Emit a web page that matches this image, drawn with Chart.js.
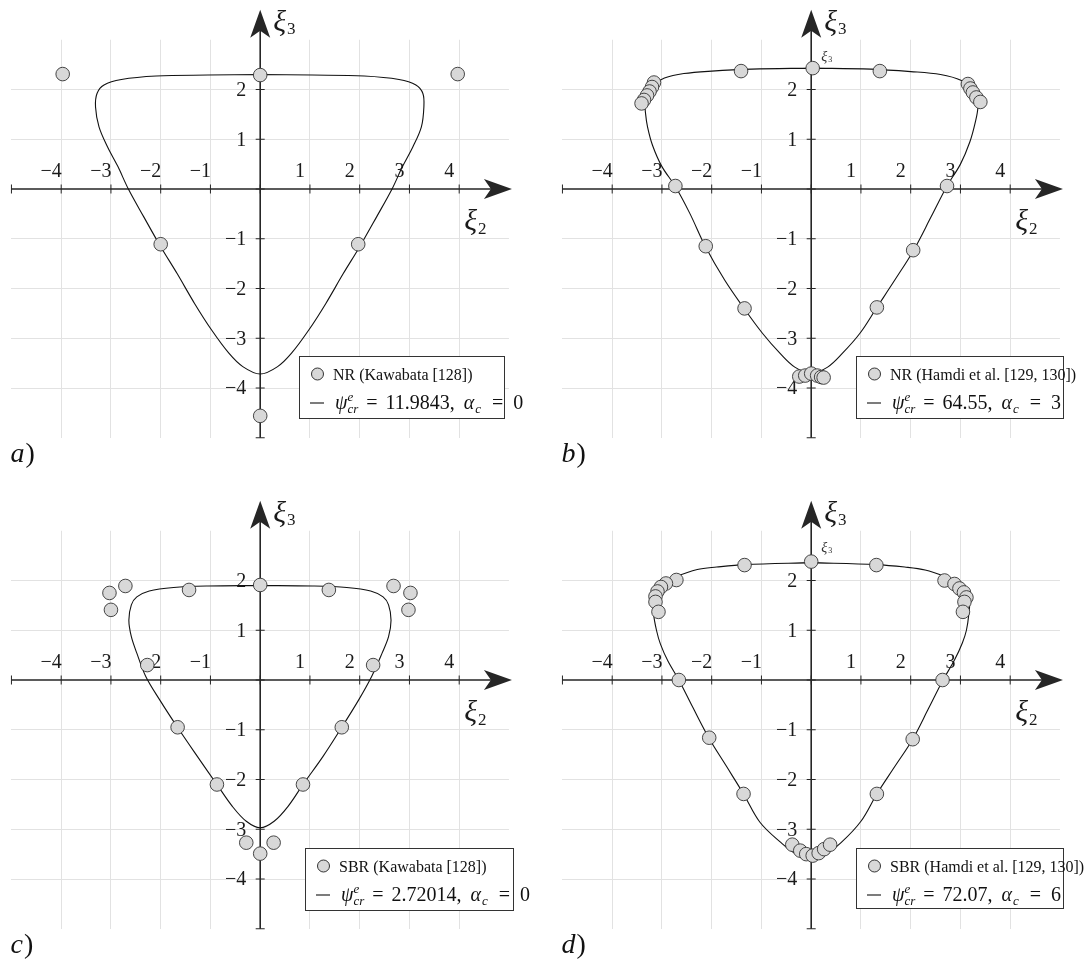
<!DOCTYPE html>
<html>
<head>
<meta charset="utf-8">
<script src="https://cdn.jsdelivr.net/npm/chart.js@4/dist/chart.umd.min.js"></script>
<style>
  html, body { margin: 0; padding: 0; background: #fff; overflow: hidden; }
  body { width: 1088px; height: 961px; position: relative; }
  canvas { position: absolute; }
</style>
</head>
<body>
<canvas id="pa" width="544" height="480" style="left:0px;top:0px"></canvas>
<canvas id="pb" width="537" height="480" style="left:551px;top:0px"></canvas>
<canvas id="pc" width="544" height="470" style="left:0px;top:491px"></canvas>
<canvas id="pd" width="537" height="470" style="left:551px;top:491px"></canvas>
<script>
// measured failure points (xi2, xi3)
const kawabataNR = [[-3.97, 2.31], [0, 2.29], [3.97, 2.31], [-2.0, -1.11], [1.97, -1.11], [0, -4.56]];

const hamdiNR = [
  [-1.41, 2.37], [0.03, 2.43], [1.38, 2.37],
  [-3.16, 2.14], [-3.20, 2.05], [-3.25, 1.96], [-3.30, 1.88], [-3.36, 1.79], [-3.41, 1.72],
  [3.15, 2.11], [3.20, 2.02], [3.25, 1.94], [3.32, 1.84], [3.40, 1.75],
  [-2.73, 0.06], [2.73, 0.06], [-2.12, -1.15], [2.05, -1.23], [-1.34, -2.40], [1.32, -2.38],
  [-0.24, -3.77], [-0.12, -3.75], [0.0, -3.71], [0.12, -3.75], [0.20, -3.78], [0.25, -3.79]
];

const kawabataSBR = [
  [-3.03, 1.75], [-2.71, 1.89], [-3.0, 1.41], [-1.43, 1.81], [0, 1.91], [1.38, 1.81],
  [2.68, 1.89], [3.02, 1.75], [2.98, 1.41], [-2.27, 0.30], [2.27, 0.30],
  [-1.66, -0.95], [1.64, -0.95], [-0.87, -2.10], [0.86, -2.10],
  [-0.28, -3.27], [0.27, -3.27], [0, -3.49]
];

const hamdiSBR = [
  [-1.34, 2.31], [0, 2.38], [1.31, 2.31],
  [-2.71, 2.01], [-2.92, 1.94], [-3.02, 1.87], [-3.09, 1.78], [-3.13, 1.68], [-3.13, 1.57], [-3.07, 1.37],
  [2.68, 2.0], [2.88, 1.93], [2.98, 1.84], [3.07, 1.76], [3.12, 1.66], [3.08, 1.57], [3.05, 1.37],
  [-2.66, 0], [2.64, 0], [-2.05, -1.16], [2.04, -1.19], [-1.36, -2.29], [1.32, -2.29],
  [-0.38, -3.31], [-0.22, -3.43], [-0.10, -3.50], [0.03, -3.53], [0.15, -3.48], [0.26, -3.40], [0.38, -3.31]
];

// critical-energy surfaces cut in the deviatoric plane
const fitNR0 = [
  [0, 2.30], [-1.05, 2.29], [-2.09, 2.27], [-2.79, 2.20], [-3.14, 2.09], [-3.28, 1.92], [-3.31, 1.65],
  [-3.24, 1.25], [-3.07, 0.85], [-2.86, 0.45], [-2.65, 0.0], [-2.34, -0.56], [-2.0, -1.16],
  [-1.67, -1.70], [-1.32, -2.30], [-0.98, -2.83], [-0.63, -3.30], [-0.35, -3.57], [0, -3.72],
  [0.35, -3.57], [0.63, -3.30], [0.98, -2.83], [1.32, -2.30], [1.67, -1.70], [2.0, -1.16],
  [2.34, -0.56], [2.65, 0.0], [2.86, 0.45], [3.07, 0.85], [3.24, 1.25], [3.29, 1.65], [3.27, 1.92],
  [3.13, 2.09], [2.79, 2.20], [2.09, 2.27], [1.05, 2.29], [0, 2.30]
];

const fitNR3 = [
  [0, 2.43], [-1.19, 2.41], [-2.0, 2.37], [-2.56, 2.32], [-2.95, 2.23], [-3.16, 2.10], [-3.28, 1.96],
  [-3.34, 1.75], [-3.33, 1.52], [-3.29, 1.25], [-3.19, 0.88], [-3.0, 0.45], [-2.73, 0.05],
  [-2.44, -0.49], [-2.13, -1.15], [-1.74, -1.83], [-1.35, -2.40], [-0.98, -2.90], [-0.63, -3.30],
  [-0.33, -3.58], [0, -3.70], [0.33, -3.58], [0.63, -3.30], [0.98, -2.90], [1.32, -2.38],
  [1.70, -1.80], [2.06, -1.23], [2.41, -0.56], [2.73, 0.06], [3.0, 0.50], [3.19, 0.95],
  [3.30, 1.35], [3.35, 1.65], [3.31, 1.86], [3.21, 2.02], [3.02, 2.18], [2.6, 2.30],
  [2.0, 2.36], [1.2, 2.41], [0, 2.43]
];

const fitSBR0 = [
  [0, 1.90], [-1.05, 1.89], [-1.74, 1.86], [-2.23, 1.79], [-2.48, 1.67], [-2.59, 1.51], [-2.64, 1.20],
  [-2.59, 0.87], [-2.48, 0.54], [-2.30, 0.07], [-2.02, -0.40], [-1.67, -0.94], [-1.26, -1.54],
  [-0.87, -2.10], [-0.56, -2.54], [-0.28, -2.84], [0, -2.97], [0.28, -2.84], [0.56, -2.54],
  [0.86, -2.10], [1.26, -1.54], [1.64, -0.95], [1.98, -0.40], [2.24, 0.07], [2.45, 0.54],
  [2.58, 0.87], [2.63, 1.20], [2.58, 1.51], [2.47, 1.67], [2.22, 1.79], [1.74, 1.86],
  [1.05, 1.89], [0, 1.90]
];

const fitSBR6 = [
  [0, 2.36], [-1.34, 2.32], [-1.9, 2.27], [-2.29, 2.22], [-2.73, 2.07], [-2.95, 1.95], [-3.08, 1.82],
  [-3.17, 1.62], [-3.17, 1.34], [-3.11, 1.0], [-3.03, 0.72], [-2.88, 0.38], [-2.66, 0.0],
  [-2.38, -0.55], [-2.06, -1.16], [-1.70, -1.74], [-1.36, -2.29], [-1.03, -2.86], [-0.63, -3.25],
  [-0.30, -3.50], [0, -3.56], [0.30, -3.49], [0.60, -3.27], [1.0, -2.84], [1.32, -2.29],
  [1.68, -1.74], [2.04, -1.19], [2.36, -0.57], [2.65, 0.0], [2.88, 0.40], [3.04, 0.75],
  [3.12, 1.0], [3.17, 1.34], [3.18, 1.61], [3.08, 1.82], [2.95, 1.95], [2.68, 2.08],
  [2.29, 2.21], [1.88, 2.27], [1.31, 2.32], [0, 2.36]
];

const sourceLabels = ['NR (Kawabata [128])', 'NR (Hamdi et al. [129, 130])',
                      'SBR (Kawabata [128])', 'SBR (Hamdi et al. [129, 130])'];
const psiCr = ['11.9843', '64.55', '2.72014', '72.07'];
const alphaC = ['0', '3', '0', '6'];
const panelTags = ['a', 'b', 'c', 'd'];
const xRange = [-5, 5];
const yRange = [-5, 3];

const SERIF = '"Liberation Serif", "Times New Roman", serif';
const INK = '#262626';

const toXY = pts => pts.map(([x, y]) => ({ x, y }));
const fmt = v => (v < 0 ? '\u2212' + (-v) : String(v));

function arrowHead(ctx, tx, ty, dx, dy) {
  const len = 28, half = 10, notch = 21;
  const nx = -dy, ny = dx;
  ctx.beginPath();
  ctx.moveTo(tx, ty);
  ctx.lineTo(tx - dx * len + nx * half, ty - dy * len + ny * half);
  ctx.lineTo(tx - dx * notch, ty - dy * notch);
  ctx.lineTo(tx - dx * len - nx * half, ty - dy * len - ny * half);
  ctx.closePath();
  ctx.fill();
}

function xiLabel(ctx, x, base, sub, size) {
  ctx.font = `italic ${size}px ${SERIF}`;
  ctx.fillText('\u03be', x, base);
  const w = ctx.measureText('\u03be').width;
  ctx.font = `${Math.round(size * 0.56)}px ${SERIF}`;
  ctx.fillText(sub, x + w + 1, base + size * 0.12);
}

// psi^e_cr = value, alpha_c = value, laid out token by token
function curveLabel(ctx, x, base, psi, alpha) {
  const big = 20, small = 13;
  const put = (text, font, dx, dy = 0) => {
    ctx.font = font;
    ctx.fillText(text, cx, base + dy);
    cx += ctx.measureText(text).width + dx;
  };
  const it = `italic ${big}px ${SERIF}`, rm = `${big}px ${SERIF}`, sm = `italic ${small}px ${SERIF}`;
  let cx = x;
  ctx.font = it;
  ctx.fillText('\u03c8', cx, base);
  cx += ctx.measureText('\u03c8').width;
  ctx.font = sm;
  ctx.fillText('e', cx, base - 8);
  put('cr', sm, 8, 4);
  put('=', rm, 8);
  put(psi + ',', rm, 9);
  put('\u03b1', it, 1);
  put('c', sm, 11, 4);
  put('=', rm, 10);
  put(alpha, rm, 0);
}

// centred axes with arrows, tick marks and labels, legend box and panel tag
const planeDecor = {
  id: 'planeDecor',
  beforeDatasetsDraw(chart) {
    const { ctx, chartArea: a, scales: { x, y } } = chart;
    const ox = x.getPixelForValue(0), oy = y.getPixelForValue(0);
    ctx.save();
    ctx.strokeStyle = INK;
    ctx.fillStyle = INK;
    ctx.lineWidth = 1.6;
    ctx.beginPath();
    ctx.moveTo(a.left, oy); ctx.lineTo(a.right - 14, oy);
    ctx.moveTo(ox, a.bottom); ctx.lineTo(ox, a.top - 12);
    ctx.stroke();
    arrowHead(ctx, a.right + 3, oy, 1, 0);
    arrowHead(ctx, ox, a.top - 30, 0, -1);

    ctx.lineWidth = 1;
    ctx.beginPath();
    x.ticks.forEach(t => {
      if (t.value >= xRange[1]) return;
      const p = x.getPixelForValue(t.value);
      ctx.moveTo(p, oy - 4.5); ctx.lineTo(p, oy + 4.5);
    });
    y.ticks.forEach(t => {
      if (t.value >= yRange[1]) return;
      const p = y.getPixelForValue(t.value);
      ctx.moveTo(ox - 4.5, p); ctx.lineTo(ox + 4.5, p);
    });
    ctx.stroke();

    ctx.fillStyle = '#1a1a1a';
    ctx.font = `20px ${SERIF}`;
    ctx.textBaseline = 'middle';
    ctx.textAlign = 'center';
    x.ticks.forEach(t => {
      if (t.value === 0 || Math.abs(t.value) >= 5) return;
      ctx.fillText(fmt(t.value), x.getPixelForValue(t.value) - 10, oy - 17);
    });
    ctx.textAlign = 'right';
    y.ticks.forEach(t => {
      if (t.value === 0 || t.value >= yRange[1] || t.value <= yRange[0]) return;
      ctx.fillText(fmt(t.value), ox - 14, y.getPixelForValue(t.value) + 1);
    });

    ctx.textAlign = 'left';
    ctx.textBaseline = 'alphabetic';
    xiLabel(ctx, ox + 13, a.top - 9, '3', 30);
    xiLabel(ctx, ox + 204, oy + 41, '2', 30);
    ctx.restore();
  },
  afterDraw(chart, args, opts) {
    const { ctx, chartArea: a, scales: { x, y } } = chart;
    const ox = x.getPixelForValue(0), oy = y.getPixelForValue(0);
    const [pts, fit] = chart.data.datasets;
    ctx.save();
    ctx.textAlign = 'left';
    ctx.textBaseline = 'alphabetic';

    if (opts.smallXi) {
      ctx.fillStyle = '#333';
      xiLabel(ctx, ox + 10, a.top + 21, '3', 14);
    }

    const bx = Math.round(ox + opts.box[0]), by = Math.round(oy + opts.box[2]);
    const bw = Math.round(opts.box[1] - opts.box[0]), bh = Math.round(opts.box[3] - opts.box[2]);
    ctx.fillStyle = '#fff';
    ctx.fillRect(bx, by, bw, bh);
    ctx.strokeStyle = '#333';
    ctx.lineWidth = 1;
    ctx.strokeRect(bx + 0.5, by + 0.5, bw, bh);

    ctx.beginPath();
    ctx.arc(bx + 18.5, by + 18, 6, 0, Math.PI * 2);
    ctx.fillStyle = pts.backgroundColor;
    ctx.fill();
    ctx.strokeStyle = pts.borderColor;
    ctx.stroke();
    ctx.fillStyle = '#111';
    ctx.font = `16px ${SERIF}`;
    ctx.fillText(pts.label, bx + 34, by + 23.5);

    ctx.strokeStyle = fit.borderColor;
    ctx.lineWidth = 1.1;
    ctx.beginPath();
    ctx.moveTo(bx + 11, by + 47);
    ctx.lineTo(bx + 25, by + 47);
    ctx.stroke();
    curveLabel(ctx, bx + 36, by + 53, fit.psi, fit.alpha);

    ctx.fillStyle = '#111';
    ctx.font = `italic 28px ${SERIF}`;
    ctx.fillText(opts.tag, a.left - 1, a.bottom + 24);
    const tw = ctx.measureText(opts.tag).width;
    ctx.font = `28px ${SERIF}`;
    ctx.fillText(')', a.left - 1 + tw + 1, a.bottom + 24);
    ctx.restore();
  }
};

function makePanel(id, i, points, fit, box, smallXi, padRight, padBottom) {
  new Chart(document.getElementById(id), {
    type: 'scatter',
    data: {
      datasets: [
        {
          label: sourceLabels[i],
          data: toXY(points),
          pointRadius: 6.8,
          backgroundColor: '#d8d8d8',
          borderColor: '#333333',
          borderWidth: 0.9,
          clip: false
        },
        {
          label: 'fit',
          psi: psiCr[i],
          alpha: alphaC[i],
          data: toXY(fit),
          showLine: true,
          tension: 0.35,
          pointRadius: 0,
          borderColor: '#111111',
          borderWidth: 1.1,
          fill: false,
          clip: false
        }
      ]
    },
    options: {
      responsive: false,
      animation: false,
      devicePixelRatio: 1,
      events: [],
      layout: { padding: { left: 11.45, top: 39.75, right: padRight, bottom: padBottom } },
      scales: {
        x: {
          type: 'linear', min: xRange[0], max: xRange[1],
          ticks: { display: false, stepSize: 1 },
          border: { display: false },
          grid: {
            drawTicks: false, lineWidth: 1,
            color: c => (Math.abs(c.tick.value) >= 5 || c.tick.value === 0 ? 'rgba(0,0,0,0)' : '#e2e2e2')
          }
        },
        y: {
          type: 'linear', min: yRange[0], max: yRange[1],
          ticks: { display: false, stepSize: 1 },
          border: { display: false },
          grid: {
            drawTicks: false, lineWidth: 1,
            color: c => (c.tick.value >= yRange[1] || c.tick.value <= yRange[0] || c.tick.value === 0 ? 'rgba(0,0,0,0)' : '#e2e2e2')
          }
        }
      },
      plugins: {
        legend: { display: false },
        tooltip: { enabled: false },
        planeDecor: { tag: panelTags[i], box: box, smallXi: smallXi }
      }
    },
    plugins: [planeDecor]
  });
}

makePanel('pa', 0, kawabataNR, fitNR0, [38.8, 243.8, 167, 229], false, 35.05, 42.25);
makePanel('pb', 1, hamdiNR, fitNR3, [45.1, 252.2, 167, 229], true, 28.05, 42.25);
makePanel('pc', 2, kawabataSBR, fitSBR0, [45.1, 252.6, 167.7, 230], false, 35.05, 32.25);
makePanel('pd', 3, hamdiSBR, fitSBR6, [45.1, 252.2, 167.7, 228], true, 28.05, 32.25);
</script>
</body>
</html>
